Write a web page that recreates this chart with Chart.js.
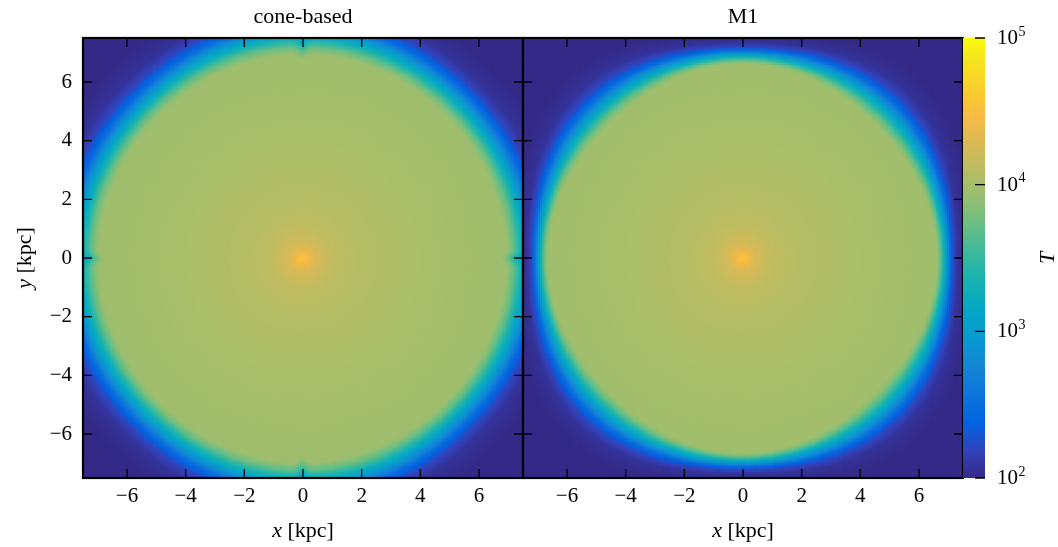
<!DOCTYPE html>
<html>
<head>
<meta charset="utf-8">
<script src="https://cdn.jsdelivr.net/npm/chart.js@4.4.0/dist/chart.umd.min.js"></script>
<style>
  body { margin: 0; background: #fff; }
  .wrap { position: relative; width: 1058px; height: 547px; }
  .wrap canvas { position: absolute; left: 0; top: 0; }
</style>
</head>
<body>
<div class="wrap">
  <canvas id="cone" width="1058" height="547"></canvas>
  <canvas id="m1" width="1058" height="547"></canvas>
  <canvas id="cbar" width="1058" height="547"></canvas>
</div>
<script>
// tick positions in kpc, colour bar decades
const kpcTicks = [-6, -4, -2, 0, 2, 4, 6];
const tempDecades = [1e2, 1e3, 1e4, 1e5];

// log10 T inside the ionised sphere against radius (kpc)
const coreRadius = [0, 0.2, 0.5, 1.0, 2.0, 4.0, 6.0, 7.0];
const coreLogT   = [4.6, 4.42, 4.27, 4.15, 4.08, 4.03, 3.99, 3.97];

// log10 T across the ionisation front (0 = inner edge, 1 = outer edge)
const frontPos  = [0, 0.15, 0.32, 0.48, 0.62, 0.8, 1.0, 1.4];
const frontLogT = [3.96, 3.72, 3.3, 2.9, 2.5, 2.22, 2.07, 2.0];

// front inner radius and thickness in kpc: [along the axes, along the diagonals]
const coneEdge  = [6.95, 6.9];
const coneWidth = [1.7, 1.6];
const m1Edge    = [6.65, 6.45];
const m1Width   = [0.7, 1.5];
// cone-based front is pulled in along the axes: [depth kpc, half width deg]
const coneNotch = [0.18, 1.4];

const BOX = 7.5;      // half size of the box, kpc
const NCELL = 200;    // cells per side

// parula colour map
const parulaPos = [0, 4, 8, 12, 16, 20, 24, 28, 32, 36, 40, 44, 48, 52, 56, 60, 63].map(v => v / 63);
const parulaRGB = [
  [53, 42, 135], [50, 67, 186], [3, 99, 225], [13, 117, 220], [20, 133, 212],
  [9, 152, 209], [6, 167, 198], [21, 177, 180], [56, 185, 158], [101, 190, 134],
  [146, 191, 115], [183, 189, 100], [217, 186, 86], [248, 187, 68], [252, 206, 46],
  [245, 228, 29], [249, 251, 14]
];

function parula(t) {
  t = Math.min(1, Math.max(0, t));
  let i = 0;
  while (i < parulaPos.length - 2 && t > parulaPos[i + 1]) i++;
  const f = (t - parulaPos[i]) / (parulaPos[i + 1] - parulaPos[i]);
  const a = parulaRGB[i], b = parulaRGB[i + 1];
  const c = a.map((v, k) => Math.round(v + (b[k] - v) * f));
  return 'rgb(' + c.join(',') + ')';
}

function lookup(xs, ys, x) {
  if (x <= xs[0]) return ys[0];
  for (let i = 1; i < xs.length; i++) {
    if (x <= xs[i]) {
      const f = (x - xs[i - 1]) / (xs[i] - xs[i - 1]);
      return ys[i - 1] + (ys[i] - ys[i - 1]) * f;
    }
  }
  return ys[ys.length - 1];
}

function logTempAt(x, y, edge, width, notch) {
  const r = Math.hypot(x, y);
  const a = Math.atan2(y, x);
  const diag = Math.pow(Math.sin(2 * a), 2);
  let r0 = edge[0] + (edge[1] - edge[0]) * diag;
  const w = width[0] + (width[1] - width[0]) * diag;
  if (notch) {
    const deg = Math.abs(a * 180 / Math.PI) % 90;
    const d = Math.min(deg, 90 - deg);
    r0 -= notch[0] * Math.exp(-Math.pow(d / notch[1], 2));
  }
  if (r <= r0) return lookup(coreRadius, coreLogT, r);
  return lookup(frontPos, frontLogT, (r - r0) / w);
}

function buildCells(edge, width, notch) {
  const pts = [], colors = [];
  const step = 2 * BOX / NCELL;
  for (let i = 0; i < NCELL; i++) {
    for (let j = 0; j < NCELL; j++) {
      const x = -BOX + (i + 0.5) * step;
      const y = -BOX + (j + 0.5) * step;
      pts.push({ x: x, y: y });
      colors.push(parula((logTempAt(x, y, edge, width, notch) - 2) / 3));
    }
  }
  return { pts, colors };
}

const SERIF = "'Liberation Serif', 'DejaVu Serif', serif";
Chart.defaults.font.family = SERIF;
Chart.defaults.color = '#000';

function minusLabel(v) {
  return v < 0 ? '\u2212' + Math.abs(v) : String(v);
}

// "x [kpc]" with an italic variable name
function drawAxisName(ctx, name, rest, cx, cy, angle) {
  ctx.save();
  ctx.translate(cx, cy);
  ctx.rotate(angle);
  ctx.fillStyle = '#000';
  ctx.textBaseline = 'alphabetic';
  ctx.font = 'italic 22px ' + SERIF;
  const w1 = ctx.measureText(name).width;
  ctx.font = '22px ' + SERIF;
  const w2 = ctx.measureText(rest).width;
  let x = -(w1 + w2) / 2;
  ctx.font = 'italic 22px ' + SERIF;
  ctx.fillText(name, x, 0);
  ctx.font = '22px ' + SERIF;
  ctx.fillText(rest, x + w1, 0);
  ctx.restore();
}

// frame with inward ticks on all four sides, plus axis names
const panelFrame = {
  id: 'panelFrame',
  afterDraw(chart, args, opts) {
    const { ctx, chartArea: a, scales } = chart;
    ctx.save();
    ctx.strokeStyle = '#000';
    ctx.lineWidth = 1.3;
    ctx.beginPath();
    kpcTicks.forEach(v => {
      const px = scales.x.getPixelForValue(v);
      const py = scales.y.getPixelForValue(v);
      ctx.moveTo(px, a.top); ctx.lineTo(px, a.top + 9);
      ctx.moveTo(px, a.bottom); ctx.lineTo(px, a.bottom - 9);
      ctx.moveTo(a.left, py); ctx.lineTo(a.left + 9, py);
      ctx.moveTo(a.right, py); ctx.lineTo(a.right - 9, py);
    });
    ctx.stroke();
    ctx.lineWidth = 2.2;
    ctx.strokeRect(a.left, a.top, a.width, a.height);
    ctx.restore();
    drawAxisName(ctx, 'x', ' [kpc]', (a.left + a.right) / 2, 537, 0);
    if (opts.yName) {
      drawAxisName(ctx, 'y', ' [kpc]', 31, (a.top + a.bottom) / 2, -Math.PI / 2);
    }
  }
};

function panelChart(id, title, cells, pad, showY) {
  const yScale = {
    type: 'linear', min: -BOX, max: BOX,
    display: showY,
    grid: { display: false, drawTicks: false },
    border: { display: false },
    ticks: { font: { size: 21 }, padding: 11, callback: minusLabel },
    afterBuildTicks: s => { s.ticks = kpcTicks.map(v => ({ value: v })); }
  };
  if (showY) yScale.afterFit = s => { s.width = 83; };

  return new Chart(document.getElementById(id), {
    type: 'scatter',
    data: {
      datasets: [{
        data: cells.pts,
        pointBackgroundColor: cells.colors,
        pointStyle: 'rect',
        pointRadius: 2.35,
        pointBorderWidth: 0,
        pointHoverRadius: 0,
        clip: 0
      }]
    },
    options: {
      responsive: false,
      animation: false,
      devicePixelRatio: 1,
      events: [],
      parsing: false,
      normalized: true,
      layout: { padding: pad },
      plugins: {
        legend: { display: false },
        tooltip: { enabled: false },
        title: {
          display: true,
          text: title,
          fullSize: false,
          color: '#000',
          font: { size: 22, weight: 'normal', family: SERIF },
          padding: { top: 4, bottom: 7.6 }
        },
        panelFrame: { yName: showY }
      },
      scales: {
        x: {
          type: 'linear', min: -BOX, max: BOX,
          grid: { display: false, drawTicks: false },
          border: { display: false },
          ticks: { font: { size: 21 }, padding: 6, maxRotation: 0, callback: minusLabel },
          afterBuildTicks: s => { s.ticks = kpcTicks.map(v => ({ value: v })); },
          afterFit: s => { s.height = 69; }
        },
        y: yScale
      }
    },
    plugins: [panelFrame]
  });
}

panelChart('cone', 'cone-based', buildCells(coneEdge, coneWidth, coneNotch),
  { left: 0, right: 535, top: 0, bottom: 0 }, true);
panelChart('m1', 'M1', buildCells(m1Edge, m1Width, null),
  { left: 523, right: 95, top: 0, bottom: 0 }, false);

// colour bar: one short horizontal stroke per colour step on a log axis
const NBAR = 220;
const barPts = [], barColors = [];
for (let k = 0; k < NBAR; k++) {
  const t = (k + 0.5) / NBAR;
  barPts.push({ x: 0, y: Math.pow(10, 2 + 3 * t) });
  barColors.push(parula(t));
}

const cbarDecor = {
  id: 'cbarDecor',
  afterDraw(chart) {
    const { ctx, chartArea: a, scales } = chart;
    ctx.save();
    ctx.strokeStyle = '#000';
    ctx.lineWidth = 1.3;
    ctx.fillStyle = '#000';
    ctx.beginPath();
    tempDecades.forEach(v => {
      const py = scales.y.getPixelForValue(v);
      ctx.moveTo(a.right - 10, py); ctx.lineTo(a.right, py);
    });
    ctx.stroke();
    ctx.textBaseline = 'alphabetic';
    tempDecades.forEach(v => {
      const py = scales.y.getPixelForValue(v);
      ctx.font = '21px ' + SERIF;
      ctx.fillText('10', a.right + 12, py + 6);
      const w = ctx.measureText('10').width;
      ctx.font = '14px ' + SERIF;
      ctx.fillText(String(Math.round(Math.log10(v))), a.right + 12 + w + 0.5, py - 2.5);
    });
    ctx.translate(1054, (a.top + a.bottom) / 2);
    ctx.rotate(-Math.PI / 2);
    ctx.textAlign = 'center';
    ctx.font = 'italic 22px ' + SERIF;
    ctx.fillText('T', 0, 0);
    ctx.restore();
  }
};

new Chart(document.getElementById('cbar'), {
  type: 'scatter',
  data: {
    datasets: [{
      data: barPts,
      pointStyle: 'line',
      pointRadius: 11,
      pointBorderColor: barColors,
      pointBorderWidth: 3.5,
      pointHoverRadius: 0,
      clip: 0
    }]
  },
  options: {
    responsive: false,
    animation: false,
    devicePixelRatio: 1,
    events: [],
    parsing: false,
    layout: { padding: { left: 963, right: 73, top: 38, bottom: 69 } },
    plugins: { legend: { display: false }, tooltip: { enabled: false } },
    scales: {
      x: { type: 'linear', min: -1, max: 1, display: false },
      y: { type: 'logarithmic', min: 1e2, max: 1e5, display: false }
    }
  },
  plugins: [cbarDecor]
});
</script>
</body>
</html>
